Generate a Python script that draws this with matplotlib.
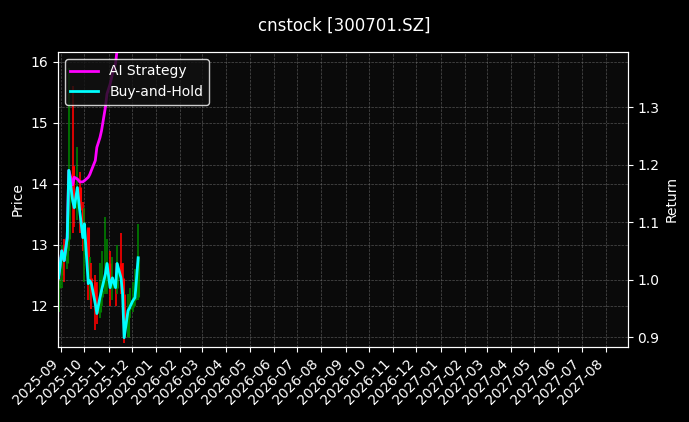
import matplotlib.pyplot as plt
import matplotlib.dates as mdates
import numpy as np
import pandas as pd

# trading dates (about every second business day)
all_days = pd.bdate_range('2025-08-29', '2025-12-09')
dates = all_days[np.round(np.linspace(0, len(all_days) - 1, 32)).astype(int)]

close = [12.47, 12.92, 12.75, 13.13, 14.23, 13.74, 13.62, 13.95, 13.57, 13.13, 13.36, 12.38,
         12.43, 12.38, 12.05, 11.89, 12.15, 12.26, 12.54, 12.70, 12.31, 12.47, 12.31, 12.70,
         12.47, 12.21, 11.49, 11.93, 11.98, 12.10, 12.15, 12.80]
opens = [12.30, 12.50, 12.95, 12.70, 13.10, 14.30, 13.70, 13.60, 13.95, 13.60, 13.10, 13.30,
         12.40, 12.45, 12.40, 12.05, 11.90, 12.15, 12.25, 12.55, 12.70, 12.30, 12.45, 12.30,
         12.70, 12.45, 12.20, 11.50, 11.95, 11.98, 12.10, 12.15]
high = [12.80, 13.00, 13.10, 13.40, 15.90, 15.60, 14.30, 14.60, 14.20, 13.70, 13.60, 12.90,
        12.80, 12.70, 12.50, 12.40, 12.70, 12.90, 13.45, 13.10, 12.90, 12.80, 12.70, 13.00,
        13.20, 12.70, 12.40, 12.20, 12.30, 12.40, 12.60, 13.35]
low = [11.90, 12.30, 12.40, 12.60, 12.90, 13.20, 13.30, 13.40, 13.20, 12.90, 12.40, 12.10,
       12.10, 11.95, 11.60, 11.70, 11.80, 12.00, 12.20, 12.20, 12.00, 12.10, 12.00, 12.20,
       12.20, 11.90, 11.40, 11.60, 11.80, 11.90, 12.00, 12.10]
bh_ret = [1.003, 1.050, 1.033, 1.073, 1.190, 1.137, 1.125, 1.160, 1.120, 1.073, 1.097, 0.993,
          0.998, 0.993, 0.958, 0.941, 0.969, 0.981, 1.010, 1.028, 0.986, 1.003, 0.986, 1.028,
          1.003, 0.976, 0.899, 0.946, 0.951, 0.963, 0.969, 1.038]
ai_ret = [1.003, 1.050, 1.033, 1.073, 1.190, 1.165, 1.178, 1.175, 1.170, 1.170, 1.172, 1.178,
          1.183, 1.190, 1.207, 1.230, 1.247, 1.259, 1.300, 1.323, 1.340, 1.358, 1.376, 1.400,
          1.430, 1.460, 1.490, 1.520, 1.550, 1.580, 1.610, 1.640]

fig = plt.figure(figsize=(6.89, 4.22), dpi=100, facecolor='black')
ax = fig.add_axes([0.084, 0.178, 0.827, 0.699])
ax.set_facecolor('#0a0a0a')
ax2 = ax.twinx()

for d, o, c, h, l in zip(dates, opens, close, high, low):
    col = 'green' if c >= o else 'red'
    ax.vlines(d, l, h, color=col, linewidth=1.2)
    ax.vlines(d, min(o, c), max(o, c), color=col, linewidth=2.2)

ax2.plot(dates, ai_ret, color='magenta', linewidth=2, label='AI Strategy')
ax2.plot(dates, bh_ret, color='cyan', linewidth=2, label='Buy-and-Hold')

ax.set_ylim(11.33, 16.16)
ax2.set_ylim(0.883, 1.396)
ax.set_xlim(pd.Timestamp('2025-08-28'), pd.Timestamp('2027-08-29'))
ax.xaxis.set_major_locator(mdates.MonthLocator())
ax.xaxis.set_major_formatter(mdates.DateFormatter('%Y-%m'))
plt.setp(ax.get_xticklabels(), rotation=45, ha='right')

for a in (ax, ax2):
    a.tick_params(colors='white')
    for s in a.spines.values():
        s.set_color('white')
ax.grid(True, color='gray', linestyle='--', linewidth=0.5, alpha=0.6)
ax2.grid(True, color='gray', linestyle='--', linewidth=0.5, alpha=0.6)
ax.set_ylabel('Price', color='white')
ax2.set_ylabel('Return', color='white')

leg = ax2.legend(loc='upper left', facecolor='#111111', edgecolor='white')
for t in leg.get_texts():
    t.set_color('white')

fig.suptitle('cnstock [300701.SZ]', color='white', fontsize=12, y=0.96)
fig.savefig('out.png', facecolor='black')
